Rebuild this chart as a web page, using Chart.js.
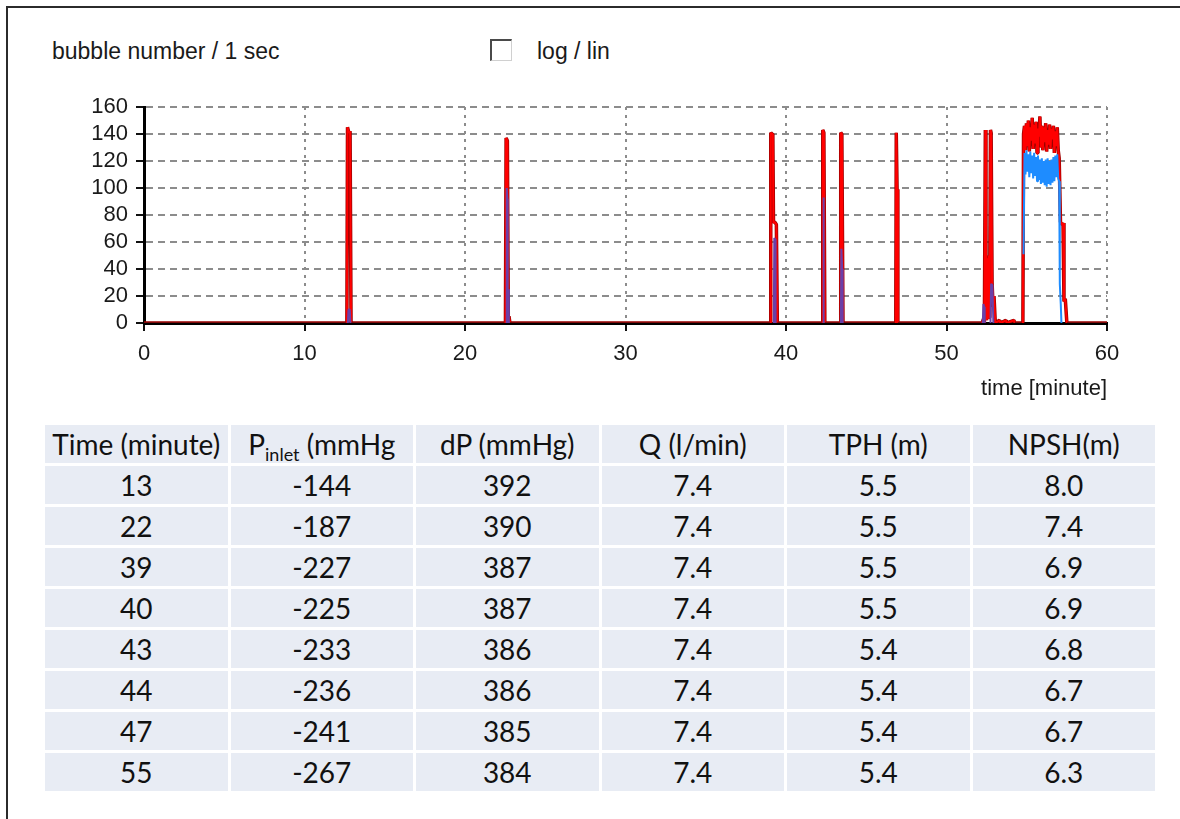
<!DOCTYPE html>
<html>
<head>
<meta charset="utf-8">
<script src="https://cdn.jsdelivr.net/npm/chart.js@4.4.0/dist/chart.umd.min.js"></script>
<style>
  body { margin: 0; background: #fff; width: 1180px; height: 819px; overflow: hidden; position: relative; font-family: "Liberation Sans", Arial, sans-serif; }
  #frame { position: absolute; left: 6px; top: 6px; width: 1190px; height: 830px; border-top: 2px solid #2b2b2b; border-left: 2px solid #2b2b2b; }
  #chartBox { position: absolute; left: 0; top: 0; }
  .lbl { position: absolute; color: #1a1a1a; font-size: 23px; white-space: nowrap; }
  #check { position: absolute; left: 490px; top: 39px; width: 19px; height: 19px; background: #fff;
           border-top: 2px solid #4a4a4a; border-left: 2px solid #4a4a4a; border-right: 1px solid #d0d0d0; border-bottom: 1px solid #d0d0d0; }
  #tbl { position: absolute; left: 42px; top: 422px; width: 1116px; border-collapse: separate; border-spacing: 3px; table-layout: fixed;
         font-family: Lato, "Open Sans", sans-serif; font-size: 28px; color: #111; }
  #tbl td { background: #e8ecf4; text-align: center; height: 38px; padding: 0; line-height: 38px; }
  #tbl sub { font-size: 18px; vertical-align: -6px; line-height: 0; }
</style>
</head>
<body>
<div id="frame"></div>
<div class="lbl" style="left:52px; top:38px;">bubble number / 1 sec</div>
<div id="check"></div>
<div class="lbl" style="left:537px; top:38px;">log / lin</div>
<div id="chartBox"><canvas id="bubbleChart" width="1180" height="420"></canvas></div>
<table id="tbl"><tbody id="tblBody"></tbody></table>

<script>
// axis ticks
const xTickValues = [0, 10, 20, 30, 40, 50, 60];
const yTickValues = [0, 20, 40, 60, 80, 100, 120, 140, 160];

// red trace (bubble count), spikes and baseline
const redTime  = [0, 12.64, 12.68, 12.76, 12.84, 12.90, 22.52, 22.56, 22.64, 22.70, 22.74, 22.80,
                  39.02, 39.05, 39.12, 39.18, 39.22, 39.28, 39.34, 39.40, 39.46,
                  42.26, 42.29, 42.36, 42.42, 43.38, 43.41, 43.48, 43.55, 46.84, 46.87, 46.92, 46.97,
                  52.22, 52.30, 52.36, 52.42, 52.46, 52.50, 52.54, 52.58, 52.62, 52.66, 52.70, 52.74, 52.78, 52.84, 52.90, 52.96, 53.04,
                  53.30, 53.36, 53.70, 53.76, 54.20, 54.26, 54.76,
                  57.02, 57.10, 57.18, 57.26, 57.32, 57.40, 57.50, 60];
const redCount = [0, 0, 145, 141, 142, 0, 0, 137, 135, 0, 5, 0,
                  0, 141, 140, 140, 74, 75, 74, 73, 0,
                  0, 143, 141, 0, 0, 141, 140, 0, 0, 141, 99, 0,
                  0, 3, 0, 143, 40, 2, 48, 3, 50, 4, 45, 143, 141, 30, 12, 20, 0,
                  2, 0, 2, 0, 2, 0, 0,
                  122, 75, 73, 74, 16, 18, 0, 0];

// blue trace, spikes (null = no signal)
const blueTime  = [12.70, 12.74, 12.82, 12.86, 12.88, 22.58, 22.60, 22.64, 22.66, 22.68, 22.72, 22.74, 22.76,
                   39.24, 39.27, 39.32, 39.35, 39.37, 42.31, 42.33, 42.36, 42.38, 43.42, 43.45, 43.50, 43.53, 43.56,
                   52.26, 52.30, 52.34, 52.38, 52.40, 52.74, 52.78, 52.86, 52.92, 52.94];
const blueCount = [0, 10, 10, 0, null, 0, 100, 92, 0, 25, 10, 0, null,
                   0, 63, 62, 0, null, 0, 93, 0, null, 0, 55, 40, 0, null,
                   0, 14, 12, 0, null, 0, 29, 28, 0, null];

// continuous bubble period 55-57 min
const plateauTime = [54.80, 54.86, 54.92, 54.98, 55.04, 55.10, 55.16, 55.22, 55.28, 55.34, 55.40, 55.46, 55.52,
                     55.58, 55.64, 55.70, 55.76, 55.82, 55.88, 55.94, 56.00, 56.06, 56.12, 56.18, 56.24, 56.30,
                     56.36, 56.42, 56.48, 56.54, 56.60, 56.66, 56.72, 56.78, 56.84, 56.90, 56.96];
const plateauRed  = [140, 146, 128, 148, 131, 150, 127, 145, 135, 152, 129, 147, 133, 149, 126, 144, 138, 153, 130,
                     146, 128, 145, 134, 148, 127, 143, 132, 147, 129, 144, 136, 146, 126, 142, 131, 145, 128];
const plateauBlue = [51, 126, 110, 128, 112, 125, 108, 127, 111, 124, 107, 126, 109, 123, 105, 124, 106, 121, 103,
                     122, 104, 120, 102, 121, 101, 122, 103, 120, 102, 121, 104, 123, 105, 124, 108, 125, 107];
const blueTailTime = [57.02, 57.06, 57.12, 57.16];
const blueTail     = [105, 29, 14, 0];

// table
const tableHeader = ['Time (minute)', 'P<sub>inlet</sub> (mmHg', 'dP (mmHg)', 'Q (l/min)', 'TPH (m)', 'NPSH(m)'];
const timeMinute = [13, 22, 39, 40, 43, 44, 47, 55];
const pInlet     = [-144, -187, -227, -225, -233, -236, -241, -267];
const dP         = [392, 390, 387, 387, 386, 386, 385, 384];
const flowQ      = ['7.4', '7.4', '7.4', '7.4', '7.4', '7.4', '7.4', '7.4'];
const tph        = ['5.5', '5.5', '5.5', '5.5', '5.4', '5.4', '5.4', '5.4'];
const npsh       = ['8.0', '7.4', '6.9', '6.9', '6.8', '6.7', '6.7', '6.3'];

function pts(xs, ys) {
    return xs.map((x, i) => ({ x: x, y: ys[i] }));
}

const redPoints = pts(redTime, redCount).concat(pts(plateauTime, plateauRed)).sort((a, b) => a.x - b.x);
const bluePoints = pts(blueTime, blueCount).concat(pts(plateauTime, plateauBlue), pts(blueTailTime, blueTail));

const fontFam = '"Liberation Sans", Arial, sans-serif';

new Chart(document.getElementById('bubbleChart'), {
    type: 'line',
    data: {
        datasets: [
            {
                // blue on top
                data: bluePoints,
                borderWidth: 2,
                borderColor: '#1e8cff',
                borderJoinStyle: 'bevel',
                segment: { borderColor: c => c.p0.parsed.x < 54 ? '#6a40a8' : '#1e8cff' },
                pointRadius: 0,
                tension: 0
            },
            {
                data: redPoints,
                borderWidth: 2,
                borderColor: '#ff0000',
                borderJoinStyle: 'bevel',
                segment: { borderColor: c => (c.p0.parsed.y === 0 && c.p1.parsed.y === 0) ? '#7d0a0a' : '#ff0000' },
                pointRadius: 0,
                tension: 0
            },
            {
                // dark edge under the red trace
                data: redPoints,
                borderWidth: 3.5,
                borderColor: '#9b0000',
                borderJoinStyle: 'bevel',
                pointRadius: 0,
                tension: 0
            }
        ]
    },
    options: {
        responsive: false,
        devicePixelRatio: 1,
        animation: false,
        layout: { padding: { left: 0, top: 107, right: 73, bottom: 0 } },
        plugins: { legend: { display: false }, tooltip: { enabled: false } },
        scales: {
            x: {
                type: 'linear',
                min: 0,
                max: 60,
                afterBuildTicks: s => { s.ticks = xTickValues.map(v => ({ value: v })); },
                afterFit: s => { s.height = 97; },
                grid: { color: '#8c8c8c', lineWidth: 2, tickColor: '#111', tickWidth: 2, tickLength: 8, tickBorderDash: [] },
                border: { color: '#000', width: 3, dash: [3, 5] },
                ticks: { color: '#1a1a1a', font: { family: fontFam, size: 22 }, padding: 10, maxRotation: 0, autoSkip: false },
                title: { display: true, text: 'time [minute]', align: 'end', color: '#1a1a1a',
                         font: { family: fontFam, size: 22 }, padding: { top: 0, bottom: 18 } }
            },
            y: {
                min: 0,
                max: 160,
                afterBuildTicks: s => { s.ticks = yTickValues.map(v => ({ value: v })); },
                afterFit: s => { s.width = 144; },
                grid: { color: '#8c8c8c', lineWidth: 2, tickColor: '#111', tickWidth: 2, tickLength: 8, tickBorderDash: [] },
                border: { color: '#000', width: 3, dash: [7, 5] },
                ticks: { color: '#1a1a1a', font: { family: fontFam, size: 22, lineHeight: 1 }, padding: 8, autoSkip: false }
            }
        }
    }
});

// build the table
const body = document.getElementById('tblBody');
let html = '<tr>' + tableHeader.map(h => `<td>${h}</td>`).join('') + '</tr>';
timeMinute.forEach((t, i) => {
    html += `<tr><td>${t}</td><td>${pInlet[i]}</td><td>${dP[i]}</td><td>${flowQ[i]}</td><td>${tph[i]}</td><td>${npsh[i]}</td></tr>`;
});
body.innerHTML = html;
</script>
</body>
</html>
